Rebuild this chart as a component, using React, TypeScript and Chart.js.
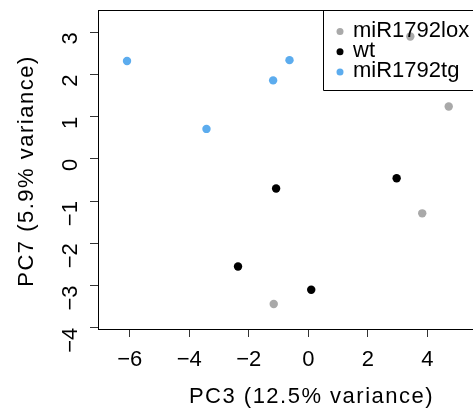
import React, { useEffect, useRef } from 'react';
import { Chart, registerables } from 'chart.js';

Chart.register(...registerables);

const FONT = "'Liberation Sans', Arial, Helvetica, sans-serif";

// Data
const seriesNames = ['miR1792lox', 'wt', 'miR1792tg'];
const loxX = [3.43, 4.72, 3.83, -1.16];
const loxY = [2.9, 1.24, -1.29, -3.44];
const wtX = [-1.08, 2.97, -2.36, 0.1];
const wtY = [-0.7, -0.46, -2.55, -3.1];
const tgX = [-6.09, -3.42, -1.18, -0.63];
const tgY = [2.32, 0.71, 1.86, 2.34];
const xTitle = 'PC3 (12.5% variance)';
const yTitle = 'PC7 (5.9% variance)';

const seriesColors = ['#A9A9A9', '#000000', '#5CACEE'];
const xsAll = [loxX, wtX, tgX];
const ysAll = [loxY, wtY, tgY];

const fmt = (v: number | string) => {
  const n = Number(v);
  return n < 0 ? '\u2212' + Math.abs(n) : String(n);
};

const framePlugin = {
  id: 'frame',
  afterDraw(chart: any) {
    const ctx = chart.ctx;
    const a = chart.chartArea;
    ctx.save();
    // top border of the plot box
    ctx.strokeStyle = '#000';
    ctx.lineWidth = 1;
    ctx.beginPath();
    ctx.moveTo(a.left, a.top + 0.5);
    ctx.lineTo(a.right + 2, a.top + 0.5);
    ctx.stroke();

    // legend
    const lx = 323.5;
    const ly = a.top + 0.5;
    ctx.beginPath();
    ctx.rect(lx, ly, 200, 80);
    ctx.stroke();
    ctx.font = `22px ${FONT}`;
    ctx.textAlign = 'left';
    ctx.textBaseline = 'alphabetic';
    chart.data.datasets.forEach((ds: any, i: number) => {
      const cy = 31.5 + i * 20.2;
      ctx.fillStyle = ds.backgroundColor;
      ctx.beginPath();
      ctx.arc(340, cy, 3.5, 0, Math.PI * 2);
      ctx.fill();
      ctx.fillStyle = '#000';
      ctx.fillText(ds.label, 353, 36.8 + i * 20.2);
    });

    // axis titles
    ctx.fillStyle = '#000';
    (ctx as any).letterSpacing = '1.5px';
    ctx.textAlign = 'center';
    ctx.textBaseline = 'alphabetic';
    ctx.fillText(xTitle, 311.5, 403.3);
    ctx.translate(33.3, 171);
    ctx.rotate(-Math.PI / 2);
    ctx.fillText(yTitle, 0, 0);
    ctx.restore();
  },
};

export default function App() {
  const ref = useRef<HTMLCanvasElement>(null);
  useEffect(() => {
    const chart = new Chart(ref.current as HTMLCanvasElement, {
      type: 'scatter',
      data: {
        datasets: seriesNames.map((name, i) => ({
          label: name,
          data: xsAll[i].map((x, j) => ({ x, y: ysAll[i][j] })),
          backgroundColor: seriesColors[i],
          borderWidth: 0,
          pointRadius: 4.2,
          pointHoverRadius: 4.2,
        })),
      },
      options: {
        responsive: false,
        animation: false,
        events: [],
        layout: { autoPadding: false, padding: { top: 10, left: 0, right: 0, bottom: 0 } },
        plugins: { legend: { display: false }, tooltip: { enabled: false } },
        scales: {
          x: {
            type: 'linear',
            min: -7.065,
            max: 5.536,
            afterFit: (s: any) => {
              s.height = 82;
              s.paddingLeft = 0;
              s.paddingRight = 0;
            },
            ticks: {
              stepSize: 2,
              includeBounds: false,
              autoSkip: false,
              maxRotation: 0,
              minRotation: 0,
              padding: 10,
              color: '#000',
              font: { size: 22, family: FONT },
              callback: fmt,
            },
            grid: { drawOnChartArea: false, drawTicks: true, tickLength: 8, color: '#333', lineWidth: 1 },
            border: { display: true, color: '#000', width: 1 },
          },
          y: {
            type: 'linear',
            min: -4.031,
            max: 3.528,
            afterFit: (s: any) => {
              s.width = 98;
              s.paddingTop = 0;
              s.paddingBottom = 0;
            },
            ticks: {
              stepSize: 1,
              includeBounds: false,
              autoSkip: false,
              minRotation: 90,
              maxRotation: 90,
              padding: 19,
              color: '#000',
              font: { size: 22, family: FONT },
              callback: fmt,
            },
            grid: { drawOnChartArea: false, drawTicks: true, tickLength: 8, color: '#333', lineWidth: 1 },
            border: { display: true, color: '#000', width: 1 },
          },
        },
      },
      plugins: [framePlugin],
    });
    return () => chart.destroy();
  }, []);
  return (
    <div style={{ position: 'absolute', left: 0, top: 0, width: 473, height: 411 }}>
      <canvas ref={ref} width={473} height={411} style={{ width: 473, height: 411, display: 'block' }} />
    </div>
  );
}
